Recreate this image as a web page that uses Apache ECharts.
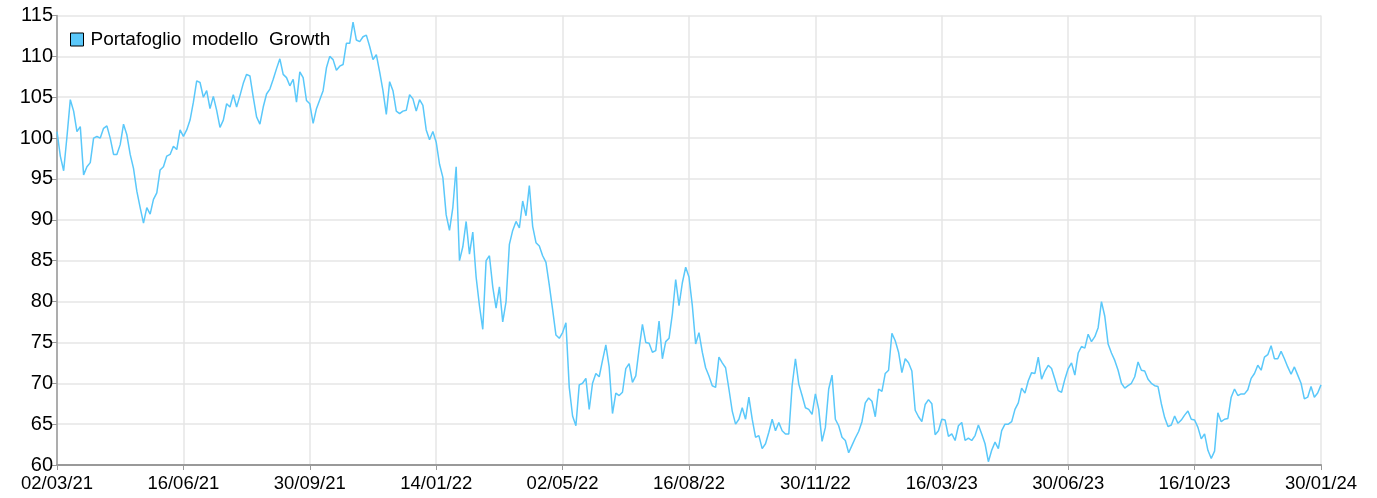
<!DOCTYPE html>
<html>
<head>
<meta charset="utf-8">
<script src="https://cdn.jsdelivr.net/npm/echarts@6/dist/echarts.min.js"></script>
<style>
html,body{margin:0;padding:0;background:#fff;}
#chart{width:1377px;height:498px;}
</style>
</head>
<body>
<div id="chart"></div>
<script>
// Series name
const seriesName = 'Portafoglio  modello  Growth';

// Values, one point every 2 business days, grouped by axis tick interval
const seg1 = [100.8, 97.8, 96, 100.2, 104.7, 103.3, 100.8, 101.4, 95.5, 96.5, 97, 100, 100.2, 100, 101.2, 101.5, 100, 98, 98, 99.2, 101.7, 100.4, 98, 96.3, 93.5, 91.5, 89.6, 91.5, 90.7, 92.5, 93.3, 96.1, 96.5, 97.8, 98, 99, 98.6, 101];
const seg2 = [100.2, 101, 102.2, 104.4, 107, 106.8, 105, 105.8, 103.6, 105.1, 103.4, 101.3, 102.2, 104.2, 103.8, 105.3, 103.8, 105.2, 106.7, 107.8, 107.6, 105, 102.6, 101.7, 103.8, 105.4, 106, 107.2, 108.5, 109.7, 107.8, 107.4, 106.4, 107.2, 104.4, 108.1, 107.4, 104.6];
const seg3 = [104.2, 101.8, 103.6, 104.7, 105.8, 108.6, 110, 109.6, 108.3, 108.8, 109, 111.6, 111.6, 114.2, 112, 111.8, 112.4, 112.6, 111.2, 109.6, 110.2, 108.1, 105.8, 102.9, 106.9, 105.8, 103.3, 103, 103.3, 103.4, 105.3, 104.8, 103.3, 104.7, 104, 101, 99.8, 100.8];
const seg4 = [99.5, 96.8, 95.2, 90.6, 88.7, 91.5, 96.5, 85, 86.7, 89.8, 85.8, 88.5, 83, 79.5, 76.6, 85, 85.6, 81.8, 79.2, 81.8, 77.5, 80, 87, 88.7, 89.8, 89, 92.3, 90.5, 94.2, 89.2, 87.2, 86.8, 85.6, 84.8, 82, 79, 75.9, 75.5];
const seg5 = [76.2, 77.4, 69.5, 66, 64.8, 69.8, 70, 70.6, 66.8, 70, 71.2, 70.8, 72.8, 74.7, 72, 66.3, 68.8, 68.5, 68.9, 71.8, 72.4, 70.1, 70.9, 74.2, 77.2, 75, 74.9, 73.8, 74, 77.6, 73, 75.1, 75.5, 78.5, 82.7, 79.5, 82.3, 84.2];
const seg6 = [83, 79.5, 74.8, 76.2, 73.8, 71.9, 70.9, 69.7, 69.5, 73.2, 72.5, 71.9, 69.3, 66.6, 65, 65.6, 67, 65.6, 68.3, 65.6, 63.4, 63.6, 62, 62.6, 64, 65.6, 64.2, 65.2, 64.2, 63.8, 63.8, 69.7, 73, 69.9, 68.5, 67, 66.8, 66.2];
const seg7 = [68.7, 66.8, 62.9, 64.6, 69.3, 71, 65.6, 64.8, 63.4, 63, 61.5, 62.4, 63.3, 64.1, 65.3, 67.6, 68.2, 67.8, 65.9, 69.3, 69, 71.2, 71.6, 76.1, 75.2, 73.8, 71.3, 73, 72.5, 71.5, 66.7, 65.9, 65.3, 67.4, 68, 67.5, 63.7, 64.2];
const seg8 = [65.6, 65.5, 63.5, 63.8, 63, 64.8, 65.2, 63, 63.3, 63, 63.6, 64.9, 63.8, 62.6, 60.4, 61.8, 62.8, 62, 64.2, 65, 65, 65.3, 66.8, 67.6, 69.4, 68.8, 70.3, 71.3, 71.2, 73.2, 70.5, 71.5, 72.2, 71.8, 70.5, 69.1, 68.9, 70.5];
const seg9 = [71.8, 72.5, 71, 73.7, 74.5, 74.3, 76, 75.1, 75.7, 76.8, 80, 78.2, 74.8, 73.7, 72.8, 71.6, 70, 69.4, 69.7, 70, 70.8, 72.6, 71.6, 71.5, 70.5, 70, 69.7, 69.6, 67.5, 65.8, 64.7, 64.9, 66, 65.1, 65.5, 66.1, 66.6, 65.6];
const seg10 = [65.5, 64.6, 63.2, 63.8, 61.8, 60.8, 61.7, 66.4, 65.3, 65.6, 65.7, 68.3, 69.3, 68.5, 68.7, 68.7, 69.2, 70.6, 71.2, 72.2, 71.6, 73.2, 73.5, 74.6, 73, 73, 73.9, 73, 72, 71.1, 72, 71, 70, 68.1, 68.3, 69.6, 68.3, 68.8];
const lastValue = [69.8];

// Tick labels (every 38th category)
const tickLabels = ['02/03/21','16/06/21','30/09/21','14/01/22','02/05/22','16/08/22','30/11/22','16/03/23','30/06/23','16/10/23','30/01/24'];

const values = [].concat(seg1, seg2, seg3, seg4, seg5, seg6, seg7, seg8, seg9, seg10, lastValue);

// Categories: dates every 2 business days from 02/03/2021
function fmt(d){
  const dd = String(d.getUTCDate()).padStart(2,'0');
  const mm = String(d.getUTCMonth()+1).padStart(2,'0');
  const yy = String(d.getUTCFullYear()).slice(2);
  return dd + '/' + mm + '/' + yy;
}
const categories = [];
(function(){
  let d = new Date(Date.UTC(2021, 2, 2));
  categories.push(fmt(d));
  while (categories.length < values.length) {
    let n = 0;
    while (n < 2) {
      d = new Date(d.getTime() + 86400000);
      const wd = d.getUTCDay();
      if (wd !== 0 && wd !== 6) n++;
    }
    categories.push(fmt(d));
  }
})();
const labelStep = 38;

const chart = echarts.init(document.getElementById('chart'));
const font = 'Liberation Sans, Arial, sans-serif';
chart.setOption({
  animation: false,
  backgroundColor: '#fff',
  grid: { left: 57, right: 56, top: 15.5, bottom: 33, outerBoundsMode: 'none' },
  legend: {
    left: 70, top: 30, padding: 0,
    icon: 'rect', itemWidth: 13, itemHeight: 13,
    itemStyle: { borderColor: '#000', borderWidth: 1 },
    textStyle: { fontSize: 19, color: '#000', fontFamily: font, padding: [0, 0, 0, 2] },
    data: [seriesName]
  },
  xAxis: {
    type: 'category', boundaryGap: false, data: categories,
    axisLine: { lineStyle: { color: '#999', width: 2 } },
    axisTick: { show: true, interval: labelStep - 1, length: 5, lineStyle: { color: '#999' } },
    axisLabel: {
      interval: labelStep - 1, color: '#000', fontSize: 18.5, fontFamily: font, margin: 9,
      formatter: function(v, i){ return (i % labelStep === 0) ? tickLabels[i / labelStep] : ''; }
    },
    splitLine: { show: true, interval: labelStep - 1, lineStyle: { color: '#e6e6e6', width: 1.5 } }
  },
  yAxis: {
    type: 'value', min: 60, max: 115, interval: 5,
    axisLine: { show: true, lineStyle: { color: '#999', width: 1.5 } },
    axisTick: { show: true, length: 5, lineStyle: { color: '#999' } },
    axisLabel: { color: '#000', fontSize: 20, fontFamily: font, margin: 4 },
    splitLine: { show: true, lineStyle: { color: '#e6e6e6', width: 1.5 } }
  },
  series: [{
    name: seriesName, type: 'line', data: values,
    showSymbol: false, symbol: 'none',
    lineStyle: { color: '#5ac8fa', width: 1.5 },
    itemStyle: { color: '#5ac8fa' }
  }]
});
</script>
</body>
</html>
